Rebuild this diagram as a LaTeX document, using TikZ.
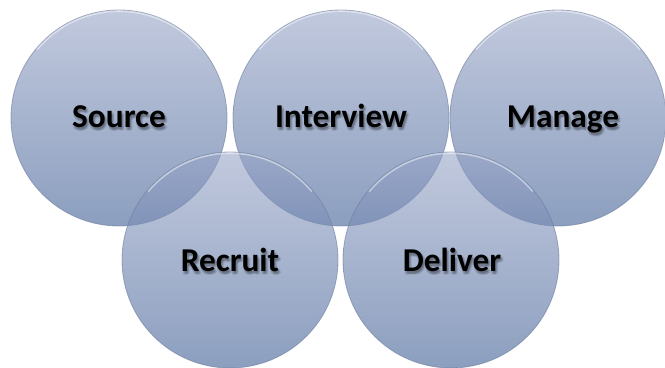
\documentclass[tikz,border=0pt]{standalone}
\usepackage{fontspec}
\setmainfont{Carlito}
\definecolor{bubtop}{HTML}{98A5C7}
\definecolor{bubmid}{HTML}{6E84B0}
\definecolor{bubbot}{HTML}{3F5E94}
\definecolor{bubline}{HTML}{6D7E9E}
\begin{document}
\begin{tikzpicture}[x=0.75pt,y=-0.75pt,
  bubble/.style={circle, minimum size=162pt, inner sep=0pt,
    top color=bubtop, middle color=bubmid, bottom color=bubbot,
    fill opacity=0.6, draw=bubline, draw opacity=0.6, line width=0.6pt},
  label/.style={anchor=base, font=\fontsize{25}{25}\selectfont\bfseries, text=black},
  shadowtxt/.style={anchor=base, font=\fontsize{25}{25}\selectfont\bfseries, text=black, text opacity=0.08},
  rim/.style={white, line width=1.2pt, opacity=0.45, line cap=round}]
\useasboundingbox (0,0) rectangle (665,368);
% upper row
\node[bubble] (src) at (119,118) {};
\node[bubble] (int) at (341,118) {};
\node[bubble] (man) at (558,118) {};
% lower row
\node[bubble] (rec) at (230,260) {};
\node[bubble] (del) at (451,260) {};
% top highlights
\foreach \n in {src,int,man,rec,del}{
  \draw[rim] ([shift={(0,1.6)}]\n.north) arc[start angle=90, end angle=140, radius=79.8pt];
  \draw[rim] ([shift={(0,1.6)}]\n.north) arc[start angle=90, end angle=40, radius=79.8pt];
}
% label shadows (soft)
\foreach \dx/\dy in {1/2,2/3,0/3,2/1,1/4,3/3}{
  \node[shadowtxt] at (119+\dx,127+\dy) {Source};
  \node[shadowtxt] at (341+\dx,127+\dy) {Interview};
  \node[shadowtxt] at (563+\dx,127+\dy) {Manage};
  \node[shadowtxt] at (230+\dx,271+\dy) {Recruit};
  \node[shadowtxt] at (452+\dx,271+\dy) {Deliver};
}
% labels
\node[label] (srct) at (119,127) {Source};
\node[label] (intt) at (341,127) {Interview};
\node[label] (mant) at (563,127) {Manage};
\node[label] (rect) at (230,271) {Recruit};
\node[label] (delt) at (452,271) {Deliver};
\end{tikzpicture}
\end{document}
